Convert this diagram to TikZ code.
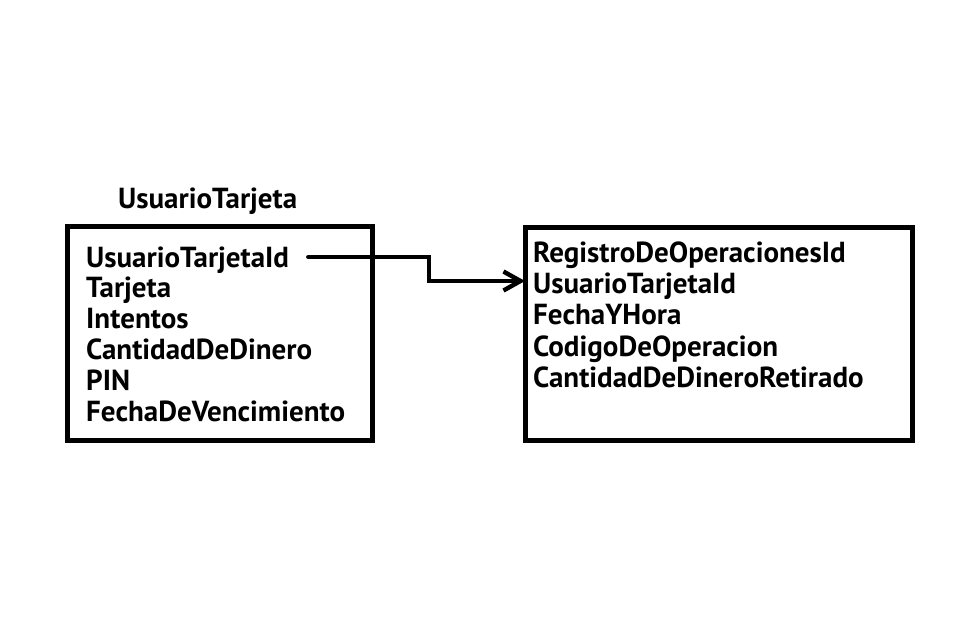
\documentclass[tikz,border=0pt]{standalone}
\usepackage{fontspec}
\setmainfont{PT Sans}
\usetikzlibrary{arrows.meta}
\tikzset{
  tbl/.style={draw=black, line width=4.6pt, fill=white},
  fld/.style={anchor=base west, inner sep=0pt, font=\bfseries\fontsize{29}{34}\selectfont},
  conn/.style={draw=black, line width=4.4pt, line cap=round, line join=miter, -{Straight Barb[length=17pt,width=19pt,line width=4.4pt]}},
}
\begin{document}
\begin{tikzpicture}[x=1pt,y=1pt]
\useasboundingbox[fill=white] (0,0) rectangle (969,-637);
% boxes
\node[tbl, minimum width=305pt, minimum height=214pt, anchor=north west, inner sep=0pt] (usuario) at (65,-224) {};
\node[tbl, minimum width=387pt, minimum height=213pt, anchor=north west, inner sep=0pt] (registro) at (523,-225) {};
% title
\node[fld] (title) at (118,-208) {UsuarioTarjeta};
% left fields
\node[fld] (u1) at (86,-267) {UsuarioTarjetaId};
\node[fld] (u2) at (86,-297.8) {Tarjeta};
\node[fld] (u3) at (86,-328.6) {Intentos};
\node[fld] (u4) at (86,-359.4) {CantidadDeDinero};
\node[fld] (u5) at (86,-390.2) {PIN};
\node[fld] (u6) at (86,-421) {FechaDeVencimiento};
% right fields
\node[fld] (r1) at (533,-262) {RegistroDeOperacionesId};
\node[fld] (r2) at (533,-293) {UsuarioTarjetaId};
\node[fld] (r3) at (533,-324.5) {FechaYHora};
\node[fld] (r4) at (533,-356) {CodigoDeOperacion};
\node[fld] (r5) at (533,-387) {CantidadDeDineroRetirado};
% connector
\coordinate (cs) at ([xshift=19pt, yshift=10pt]u1.base east);
\coordinate (ce) at ([xshift=-8pt, yshift=12pt]r2.base west);
\draw[conn] (cs) -- ++(121,0) |- (ce);
\end{tikzpicture}
\end{document}
